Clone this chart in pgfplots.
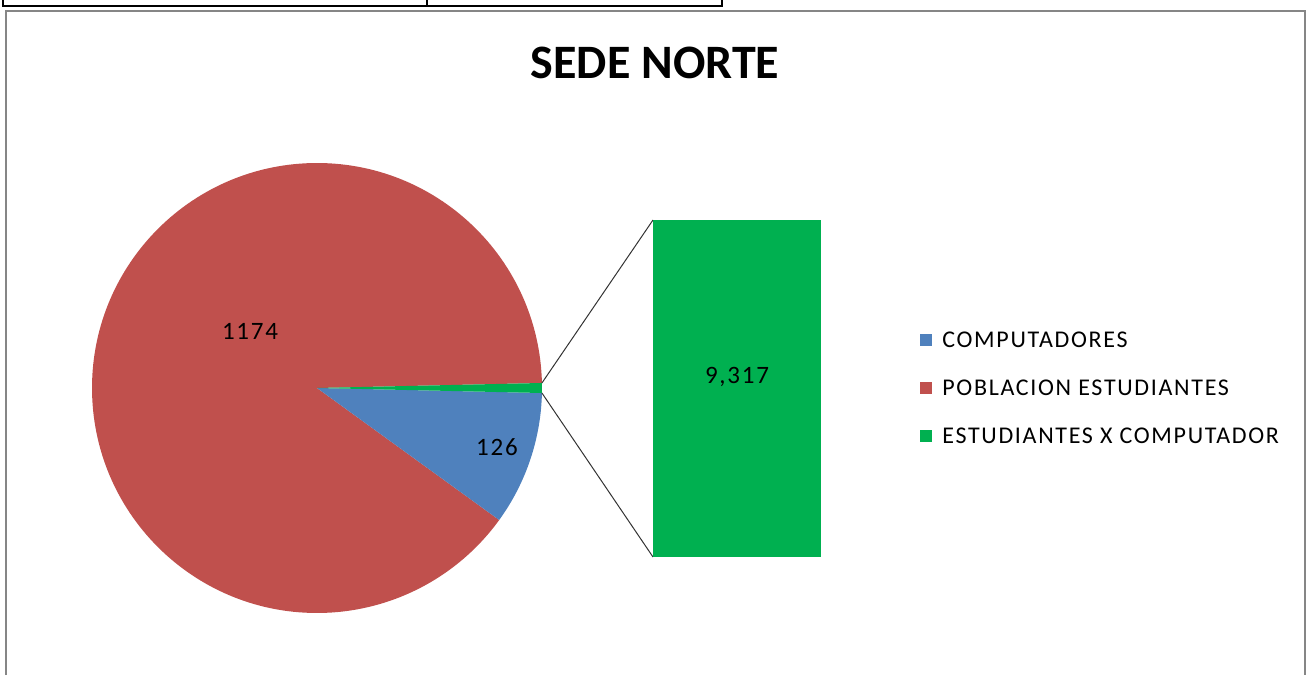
\documentclass[border=0pt]{standalone}
\usepackage{pgfplots}
\pgfplotsset{compat=1.18}
\usepackage{pgfplotstable}
\usepackage{fontspec}
\setmainfont{Carlito}
\newfontfamily\lsfont[LetterSpace=7]{Carlito}
\definecolor{cblue}{HTML}{4F81BD}
\definecolor{cred}{HTML}{C0504D}
\definecolor{cgreen}{HTML}{00B050}
\definecolor{cframe}{HTML}{868686}

\pgfplotstableread{
name value
COMPUTADORES 126
POBLACION 1174
ESTXCOMP 9.317
}\piedata

\begin{document}
\begin{tikzpicture}[x=0.5pt,y=0.5pt]
\useasboundingbox (0,0) rectangle (1307,675);
\pgfplotstablegetelem{0}{value}\of\piedata \let\vA\pgfplotsretval
\pgfplotstablegetelem{1}{value}\of\piedata \let\vB\pgfplotsretval
\pgfplotstablegetelem{2}{value}\of\piedata \let\vC\pgfplotsretval
\pgfmathsetmacro\tot{\vA+\vB+\vC}
\pgfmathsetmacro\gh{\vC/\tot*180}
\pgfmathsetmacro\bs{-\gh-\vA/\tot*360}
\pgfmathsetmacro\re{360+\bs}
\pgfmathsetmacro\ngh{-\gh}
\begin{axis}[
  at={(0pt,0pt)}, anchor=south west,
  width=653.5pt, height=337.5pt, scale only axis,
  xmin=0, xmax=1307, ymin=0, ymax=675,
  hide axis, clip=false,
]
% pie slices (angles from the data values)
\fill[cred] (axis cs:317,287) -- ++(\gh:112.5pt) arc[start angle=\gh, end angle=\re, radius=112.5pt] -- cycle;
\fill[cblue] (axis cs:317,287) -- ++(\bs:112.5pt) arc[start angle=\bs, end angle=\ngh, radius=112.5pt] -- cycle;
\fill[cgreen] (axis cs:317,287) -- ++(\ngh:112.5pt) arc[start angle=\ngh, end angle=\gh, radius=112.5pt] -- cycle;
% connectors
\draw[black!80, line width=0.5pt] (axis cs:317,287) ++(\gh:112.5pt) -- (axis cs:653,455);
\draw[black!80, line width=0.5pt] (axis cs:317,287) ++(\ngh:112.5pt) -- (axis cs:653,118);
% data labels
\node[font=\fontsize{12.5}{14}\lsfont] at (axis cs:250,344) {1174};
\node[font=\fontsize{12.5}{14}\lsfont] at (axis cs:497,228) {126};
% title
\node[font=\fontsize{24}{27}\selectfont\bfseries] at (axis cs:655,612) {SEDE NORTE};
% legend
\fill[cblue] (axis cs:920,329) rectangle (axis cs:932,341);
\fill[cred] (axis cs:920,281) rectangle (axis cs:932,293);
\fill[cgreen] (axis cs:920,233) rectangle (axis cs:932,245);
\node[anchor=west, inner sep=0pt, font=\fontsize{12}{14}\lsfont] at (axis cs:942,335) {COMPUTADORES};
\node[anchor=west, inner sep=0pt, font=\fontsize{12}{14}\lsfont] at (axis cs:942,287) {POBLACION ESTUDIANTES};
\node[anchor=west, inner sep=0pt, font=\fontsize{12}{14}\lsfont] at (axis cs:942,239) {ESTUDIANTES X COMPUTADOR};
% chart frame
\draw[cframe, line width=1pt] (axis cs:5.5,0) -- (axis cs:5.5,664) -- (axis cs:1304.5,664) -- (axis cs:1304.5,0);
% table fragment at top
\draw[black, line width=1pt] (axis cs:3,675) -- (axis cs:3,669) -- (axis cs:722,669) -- (axis cs:722,675);
\draw[black, line width=0.6pt] (axis cs:427,675) -- (axis cs:427,669);
\end{axis}
\begin{axis}[
  at={(326.5pt,59pt)}, anchor=south west,
  width=84pt, height=168.5pt, scale only axis,
  xmin=-0.5, xmax=0.5, ymin=0, ymax=9.317,
  hide axis, clip=false,
  ybar, bar width=84pt,
]
\addplot[fill=cgreen, draw=none] coordinates {(0,9.317)};
\node[font=\fontsize{12.5}{14}\lsfont] at (axis cs:0,4.97) {9,317};
\end{axis}
\end{tikzpicture}
\end{document}
